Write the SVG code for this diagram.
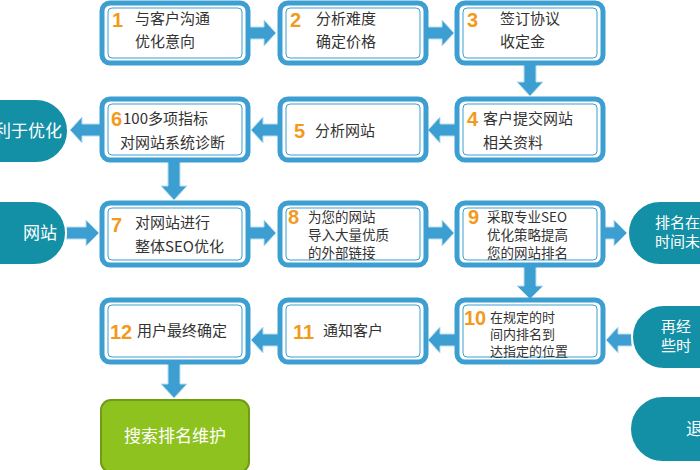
<svg xmlns="http://www.w3.org/2000/svg" width="700" height="470" viewBox="0 0 700 470">
<defs>
<style>
.box{fill:#fff;stroke:#3d9fd1;stroke-width:5}
.inner{fill:none;stroke:#3d9fd1;stroke-width:1}
.t{font-family:"Noto Sans CJK SC","Liberation Sans",sans-serif;font-size:15px;fill:#333}
.s{font-size:13.5px}
.n{font-family:"Liberation Sans",sans-serif;font-size:20px;font-weight:bold;fill:#f39a1e}
.pill{fill:#138fa6;stroke:#fff;stroke-width:2}
.pt{font-family:"Noto Sans CJK SC",sans-serif;font-size:17px;fill:#fff}
.ps{font-size:15px}
.ar{fill:#3d9fd1;stroke:#b8def0;stroke-width:1}
</style>
</defs>
<rect width="700" height="470" fill="#fff"/>
<g id="connectors">
<polygon class="ar" points="248,27 264,27 264,20 276,33 264,46 264,39 248,39"/>
<polygon class="ar" points="426,27 442,27 442,20 454,33 442,46 442,39 426,39"/>
<polygon class="ar" points="524,64 536,64 536,82 543,82 530,96 517,82 524,82"/>
<polygon class="ar" points="456,124 440,124 440,117 428,130 440,143 440,136 456,136"/>
<polygon class="ar" points="279,124 263,124 263,117 251,130 263,143 263,136 279,136"/>
<polygon class="ar" points="101,124 82,124 82,117 70,130 82,143 82,136 101,136"/>
<polygon class="ar" points="168,160 180,160 180,186 187,186 174,200 161,186 168,186"/>
<polygon class="ar" points="66,227 86,227 86,220 99,233 86,246 86,239 66,239"/>
<polygon class="ar" points="248,227 264,227 264,220 276,233 264,246 264,239 248,239"/>
<polygon class="ar" points="426,227 442,227 442,220 454,233 442,246 442,239 426,239"/>
<polygon class="ar" points="603,227 614,227 614,220 627,233 614,246 614,239 603,239"/>
<polygon class="ar" points="524,266 536,266 536,286 543,286 530,299 517,286 524,286"/>
<polygon class="ar" points="632,334 618,334 618,327 606,340 618,353 618,346 632,346"/>
<polygon class="ar" points="456,334 440,334 440,327 428,340 440,353 440,346 456,346"/>
<polygon class="ar" points="279,334 263,334 263,327 251,340 263,353 263,346 279,346"/>
<polygon class="ar" points="168,362 180,362 180,384 187,384 174,398 161,384 168,384"/>
</g>
<g id="n1"><rect class="box" x="102" y="3" width="146" height="60" rx="8"/><rect class="inner" x="108" y="8" width="134" height="50" rx="4"/><text class="n" x="112" y="27">1</text><text class="t" x="135" y="24">与客户沟通</text><text class="t" x="135" y="47">优化意向</text></g>
<g id="n2"><rect class="box" x="280" y="3" width="146" height="60" rx="8"/><rect class="inner" x="286" y="8" width="134" height="50" rx="4"/><text class="n" x="290" y="27">2</text><text class="t" x="316" y="24">分析难度</text><text class="t" x="316" y="47">确定价格</text></g>
<g id="n3"><rect class="box" x="457" y="3" width="146" height="60" rx="8"/><rect class="inner" x="463" y="8" width="134" height="50" rx="4"/><text class="n" x="467" y="27">3</text><text class="t" x="500" y="24">签订协议</text><text class="t" x="500" y="47">收定金</text></g>
<g id="n4"><rect class="box" x="457" y="99" width="146" height="61" rx="8"/><rect class="inner" x="463" y="104" width="134" height="51" rx="4"/><text class="n" x="467" y="126">4</text><text class="t" x="483" y="124">客户提交网站</text><text class="t" x="483" y="148">相关资料</text></g>
<g id="n5"><rect class="box" x="280" y="99" width="146" height="61" rx="8"/><rect class="inner" x="286" y="104" width="134" height="51" rx="4"/><text class="n" x="294" y="138">5</text><text class="t" x="315" y="136">分析网站</text></g>
<g id="n6"><rect class="box" x="102" y="99" width="146" height="61" rx="8"/><rect class="inner" x="108" y="104" width="134" height="51" rx="4"/><text class="n" x="111" y="126">6</text><text class="t" x="123" y="124">100多项指标</text><text class="t" x="120" y="148">对网站系统诊断</text></g>
<g id="n7"><rect class="box" x="102" y="203" width="146" height="62" rx="8"/><rect class="inner" x="108" y="208" width="134" height="52" rx="4"/><text class="n" x="111" y="232">7</text><text class="t" x="135" y="228">对网站进行</text><text class="t" x="135" y="252">整体SEO优化</text></g>
<g id="n8"><rect class="box" x="280" y="203" width="146" height="62" rx="8"/><rect class="inner" x="286" y="208" width="134" height="52" rx="4"/><text class="n" x="288" y="224">8</text><text class="t s" x="308" y="222">为您的网站</text><text class="t s" x="308" y="240">导入大量优质</text><text class="t s" x="308" y="258">的外部链接</text></g>
<g id="n9"><rect class="box" x="457" y="203" width="146" height="62" rx="8"/><rect class="inner" x="463" y="208" width="134" height="52" rx="4"/><text class="n" x="468" y="224">9</text><text class="t s" x="487" y="222">采取专业SEO</text><text class="t s" x="487" y="240">优化策略提高</text><text class="t s" x="487" y="258">您的网站排名</text></g>
<g id="n10"><rect class="box" x="457" y="300" width="146" height="62" rx="8"/><rect class="inner" x="463" y="305" width="134" height="52" rx="4"/><text class="n" x="464" y="325">10</text><text class="t" x="490" y="322" style="font-size:13px">在规定的时</text><text class="t" x="490" y="339" style="font-size:13px">间内排名到</text><text class="t" x="490" y="356" style="font-size:13px">达指定的位置</text></g>
<g id="n11"><rect class="box" x="280" y="300" width="146" height="62" rx="8"/><rect class="inner" x="286" y="305" width="134" height="52" rx="4"/><text class="n" x="293" y="339">11</text><text class="t" x="323" y="336">通知客户</text></g>
<g id="n12"><rect class="box" x="102" y="300" width="146" height="62" rx="8"/><rect class="inner" x="108" y="305" width="134" height="52" rx="4"/><text class="n" x="110" y="339">12</text><text class="t" x="137" y="336">用户最终确定</text></g>
<g id="n13"><rect x="101" y="400" width="148" height="72" rx="10" fill="#8ec21e" stroke="#6f9c12" stroke-width="2"/><text class="pt" x="175" y="442" text-anchor="middle">搜索排名维护</text></g>
<g id="p1"><rect class="pill" x="-60" y="99" width="128" height="64" rx="32"/><text class="pt" x="62" y="137" text-anchor="end">利于优化</text></g>
<g id="p2"><rect class="pill" x="-60" y="201" width="126" height="64" rx="32"/><text class="pt" x="57" y="239" text-anchor="end">网站</text></g>
<g id="p3"><rect class="pill" x="628" y="201" width="130" height="64" rx="32"/><text class="pt ps" x="655" y="228">排名在</text><text class="pt ps" x="655" y="247">时间未</text></g>
<g id="p4"><rect class="pill" x="632" y="305" width="130" height="64" rx="32"/><text class="pt ps" x="661" y="332">再经</text><text class="pt ps" x="661" y="351">些时</text></g>
<g id="p5"><rect class="pill" x="630" y="396" width="130" height="66" rx="33"/><text class="pt" x="686" y="435">退</text></g>
</svg>
